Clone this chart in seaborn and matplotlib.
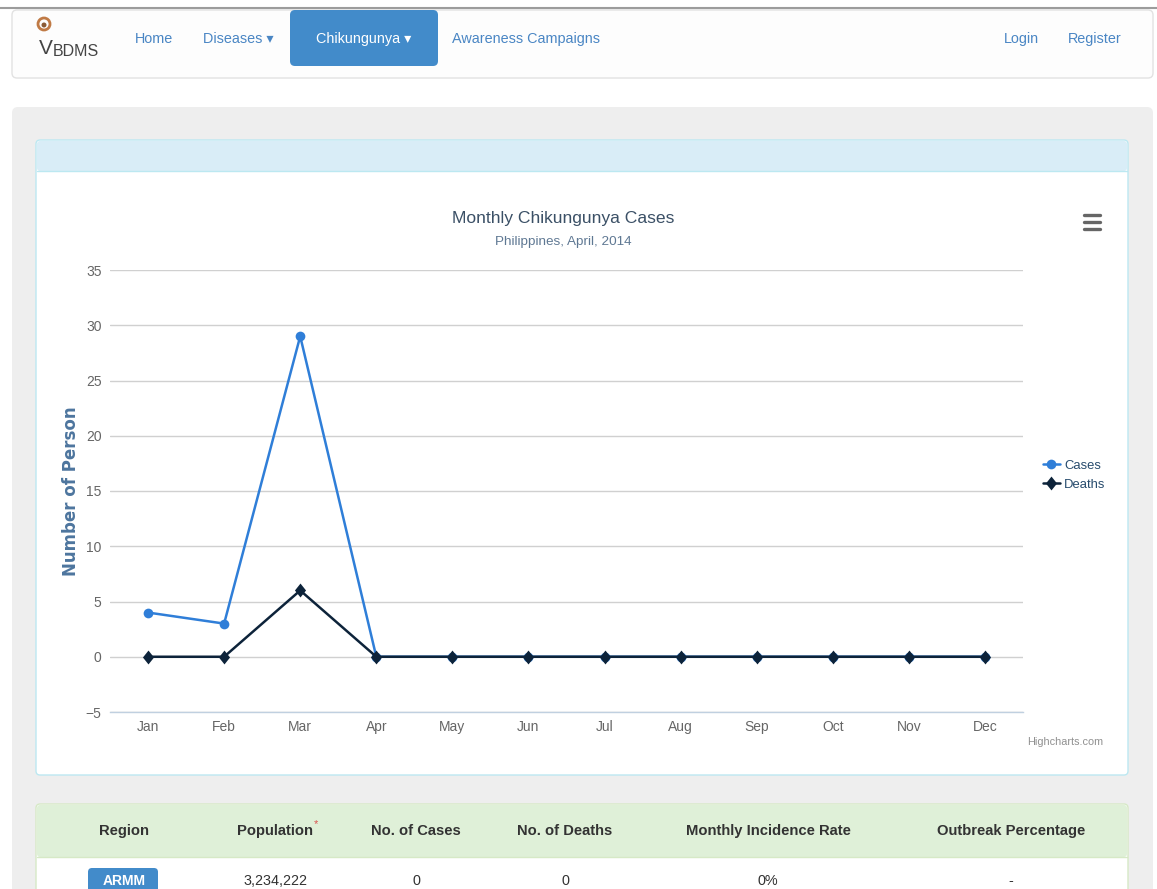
# monthly chikungunya cases - dashboard screenshot
from matplotlib import pyplot as plt
from matplotlib.patches import FancyBboxPatch, Circle
import seaborn as sns
import numpy as np

# chart data
months = ['Jan', 'Feb', 'Mar', 'Apr', 'May', 'Jun', 'Jul', 'Aug', 'Sep', 'Oct', 'Nov', 'Dec']
cases = [4, 3, 29, 0, 0, 0, 0, 0, 0, 0, 0, 0]
deaths = [0, 0, 6, 0, 0, 0, 0, 0, 0, 0, 0, 0]
y_ticks = [-5, 0, 5, 10, 15, 20, 25, 30, 35]

title = 'Monthly Chikungunya Cases'
subtitle = 'Philippines, April, 2014'
y_label = 'Number of Person'

# page text
nav_left = ['Home', 'Diseases \u25be', 'Chikungunya \u25be', 'Awareness Campaigns']
nav_right = ['Login', 'Register']
table_headers = ['Region', 'Population', 'No. of Cases', 'No. of Deaths',
                 'Monthly Incidence Rate', 'Outbreak Percentage']
table_row = ['ARMM', '3,234,222', '0', '0', '0%', '-']

sns.set_style('white')
plt.rcParams['font.family'] = ['Liberation Sans', 'DejaVu Sans']

fig = plt.figure(figsize=(11.57, 8.89), dpi=100)

# background layer in pixel coords (y down)
bg = fig.add_axes([0, 0, 1, 1])
bg.set_xlim(0, 1157)
bg.set_ylim(889, 0)
bg.axis('off')


def box(x0, y0, x1, y1, fc, ec='none', r=4, lw=1):
    bg.add_patch(FancyBboxPatch((x0, y0), x1 - x0, y1 - y0,
                                boxstyle='round,pad=0,rounding_size=%s' % r,
                                fc=fc, ec=ec, lw=lw))


# nav bar
bg.plot([0, 1157], [7.5, 7.5], color='#9c9c9c', lw=1.5)
box(12, 10, 1153, 78, '#fdfdfd', '#e2e2e2', r=5)
box(290, 10, 438, 66, '#428bca', r=5)
bg.add_patch(Circle((44, 24), 6, fc='none', ec='#c07a45', lw=2))
bg.add_patch(Circle((44, 25), 2.5, fc='#8a5a35', ec='none'))
bg.text(39, 48, 'V', fontsize=15, color='#444444', va='center', ha='left')
bg.text(53, 51, 'BDMS', fontsize=11.5, color='#444444', va='center', ha='left')
nav_x = [154, 238, 364, 526]
for txt, x in zip(nav_left, nav_x):
    col = 'white' if txt.startswith('Chik') else '#4a86c4'
    bg.text(x, 39, txt, fontsize=10.4, color=col, ha='center', va='center')
for txt, x in zip(nav_right, [1021, 1095]):
    bg.text(x, 39, txt, fontsize=10.4, color='#4a86c4', ha='center', va='center')

# grey well and chart panel
box(12, 107, 1153, 910, '#eeeeee', r=6)
box(36, 140, 1128, 775, 'white', '#bce8f1', r=4)
box(37, 141, 1127, 171, '#d9edf7', r=3)
bg.plot([37, 1127], [171, 171], color='#bce8f1', lw=1)

bg.text(563, 219, title, fontsize=12.6, color='#3b5066', ha='center', va='center')
bg.text(563, 242, subtitle, fontsize=9.7, color='#5f7893', ha='center', va='center')
for yy in (215, 222, 229):
    bg.plot([1084, 1100], [yy, yy], color='#666666', lw=2.4, solid_capstyle='round')
bg.text(1103, 742, 'Highcharts.com', fontsize=7.8, color='#909090', ha='right', va='center')

# table panel
box(36, 804, 1128, 910, 'white', '#d6e9c6', r=4)
box(37, 805, 1127, 857, '#dff0d8', r=3)
bg.plot([37, 1127], [857, 857], color='#d6e9c6', lw=1)
col_x = [124, 275, 416, 565, 768, 1011]
for txt, x in zip(table_headers, col_x):
    if txt == 'Population':
        bg.text(x + 38, 831, txt, fontsize=10.6, fontweight='bold', color='#333333', ha='right', va='center')
    else:
        bg.text(x, 831, txt, fontsize=10.6, fontweight='bold', color='#333333', ha='center', va='center')
bg.text(col_x[1] + 39, 824, '*', fontsize=8, color='#d9534f', ha='left', va='center')
box(88, 868, 158, 905, '#428bca', r=4)
bg.text(col_x[0], 881, table_row[0], fontsize=10, fontweight='bold', color='white', ha='center', va='center')
for txt, x in zip(table_row[1:], col_x[1:]):
    bg.text(x, 881, txt, fontsize=10.4, color='#333333', ha='center', va='center')

# chart
ax = fig.add_axes([110 / 1157, 1 - 712 / 889, 913 / 1157, 442 / 889])
ax.set_facecolor('none')

diamond = [(0, 1), (0.8, 0), (0, -1), (-0.8, 0), (0, 1)]
sns.lineplot(x=months, y=cases, sort=False, label='Cases', color='#2f7ed8',
             marker='o', markersize=7, markeredgewidth=0, linewidth=1.8, ax=ax)
sns.lineplot(x=months, y=deaths, sort=False, label='Deaths', color='#0d233a',
             marker=diamond, markersize=10, markeredgewidth=0, linewidth=1.8, ax=ax)

ax.set_xlim(-0.5, len(months) - 0.5)
ax.set_ylim(-5, 35)
ax.set_yticks(y_ticks)
ax.set_xticks(range(len(months)))
ax.set_xticklabels(months)
ax.set_xticks(np.arange(-0.5, len(months)), minor=True)
ax.tick_params(axis='x', which='major', length=0, pad=6, labelsize=10, labelcolor='#666666')
ax.tick_params(axis='x', which='minor', length=4, width=1, color='#c0d0e0', direction='out')
ax.tick_params(axis='y', length=0, pad=6, labelsize=10, labelcolor='#666666')
ax.grid(axis='y', color='#d0d0d0', lw=1)
ax.grid(axis='x', visible=False)
for s in ['top', 'right', 'left']:
    ax.spines[s].set_visible(False)
ax.spines['bottom'].set_color('#c0d0e0')
ax.spines['bottom'].set_linewidth(1)

ax.set_xlabel('')
ax.set_ylabel(y_label, fontsize=12, fontweight='bold', color='#4d759e', family='DejaVu Sans')
ax.yaxis.set_label_coords(-0.033, 0.5)

handles, labels = ax.get_legend_handles_labels()
ax.legend(handles, labels, loc='upper left', frameon=False,
          bbox_to_anchor=(1036 / 1157, 1 - 453 / 889), bbox_transform=fig.transFigure,
          fontsize=9.4, handlelength=1.3, handletextpad=0.35, labelspacing=0.55,
          borderpad=0, labelcolor='#274b6d')

fig.savefig('out.png', dpi=100)
